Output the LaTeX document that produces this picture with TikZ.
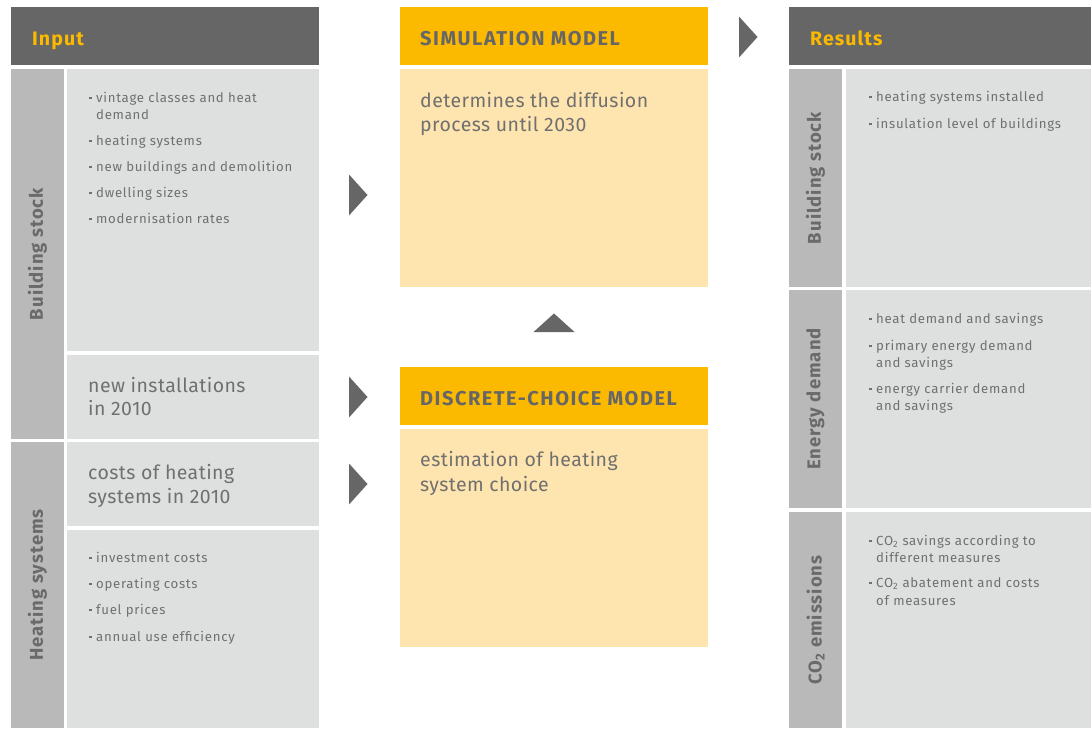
\documentclass[tikz,border=0pt]{standalone}
\usepackage{fontspec}
\setmainfont{Fira Sans}
\newfontfamily\itemfont[LetterSpace=5.5]{Fira Sans}
\newfontfamily\bodyfont[LetterSpace=2.2]{Fira Sans}
\newfontfamily\headfont[LetterSpace=5.5]{Fira Sans}
\newfontfamily\capsfont[LetterSpace=7.5]{Fira Sans}
\definecolor{hdrgray}{HTML}{666666}
\definecolor{amber}{HTML}{FBB900}
\definecolor{paleamber}{HTML}{FEE4AE}
\definecolor{panelgray}{HTML}{DEDFDF}
\definecolor{sidegray}{HTML}{B9B9B9}
\definecolor{txtgray}{HTML}{707070}
\definecolor{labgray}{HTML}{6A6A6A}

% small square bullet hanging left of the item text
\newcommand\sqbul{\llap{\raisebox{0.2em}{\rule{2.6pt}{2.6pt}}\hspace{4.4pt}}}
\newcommand\cotwo{CO\textsubscript{2}}

\begin{document}
\begin{tikzpicture}[x=1pt,y=-1pt,
  panel/.style={anchor=north west, inner sep=0pt, outer sep=0pt, draw=none},
  small/.style={anchor=base west, inner sep=0pt, text=txtgray,
    font=\itemfont\fontsize{13.2}{18}\selectfont},
  large/.style={anchor=base west, inner sep=0pt, text=txtgray,
    font=\bodyfont\fontsize{19.5}{24}\selectfont},
  headline/.style={anchor=base west, inner sep=0pt,
    font=\headfont\fontsize{19.5}{24}\selectfont\bfseries},
  capsline/.style={anchor=base west, inner sep=0pt, text=hdrgray,
    font=\capsfont\fontsize{20}{24}\selectfont\bfseries},
  sidelabel/.style={rotate=90, inner sep=0pt, text=labgray,
    font=\headfont\fontsize{18.5}{22}\selectfont\bfseries},
  pointer/.style={fill=hdrgray, draw=none}]
\useasboundingbox[fill=white] (0,0) rectangle (1091,728);

% ---------- Input column ----------
\node[panel, fill=hdrgray,   minimum width=308pt, minimum height=58pt]  (inhdr)  at (11,7)   {};
\node[panel, fill=sidegray,  minimum width=53pt,  minimum height=370pt] (inbsside) at (11,69) {};
\node[panel, fill=panelgray, minimum width=252pt, minimum height=282pt] (inbsa)  at (67,69)  {};
\node[panel, fill=panelgray, minimum width=252pt, minimum height=84pt]  (inbsb)  at (67,355) {};
\node[panel, fill=sidegray,  minimum width=53pt,  minimum height=286pt] (inhsside) at (11,442) {};
\node[panel, fill=panelgray, minimum width=252pt, minimum height=84pt]  (inhsa)  at (67,442) {};
\node[panel, fill=panelgray, minimum width=252pt, minimum height=198pt] (inhsb)  at (67,530) {};

\node[headline, text=amber] (tinput) at (32,45) {Input};
\node[sidelabel] (lbsin) at (inbsside.center) {Building stock};
\node[sidelabel] (lhsin) at (inhsside.center) {Heating systems};

\node[small] (i1a) at (96,102) {\sqbul vintage classes and heat};
\node[small] (i1b) at (96,119) {demand};
\node[small] (i2)  at (96,145) {\sqbul heating systems};
\node[small] (i3)  at (96,171) {\sqbul new buildings and demolition};
\node[small] (i4)  at (96,197) {\sqbul dwelling sizes};
\node[small] (i5)  at (96,223) {\sqbul modernisation rates};

\node[large] (n1) at (88,392) {new installations};
\node[large] (n2) at (88,415) {in 2010};
\node[large] (c1) at (88,479) {costs of heating};
\node[large] (c2) at (88,503) {systems in 2010};

\node[small] (h1) at (96,562) {\sqbul investment costs};
\node[small] (h2) at (96,588) {\sqbul operating costs};
\node[small] (h3) at (96,614) {\sqbul fuel prices};
\node[small] (h4) at (96,641) {\sqbul annual use efficiency};

% ---------- Model column ----------
\node[panel, fill=amber,     minimum width=308pt, minimum height=58pt]  (simhdr)  at (400,7)   {};
\node[panel, fill=paleamber, minimum width=308pt, minimum height=218pt] (simbody) at (400,69)  {};
\node[panel, fill=amber,     minimum width=308pt, minimum height=58pt]  (dchdr)   at (400,367) {};
\node[panel, fill=paleamber, minimum width=308pt, minimum height=218pt] (dcbody)  at (400,429) {};

\node[capsline] (tsim) at (420,45)  {SIMULATION MODEL};
\node[large] (s1) at (420,107) {determines the diffusion};
\node[large] (s2) at (420,131) {process until 2030};
\node[capsline] (tdc)  at (420,405) {DISCRETE-CHOICE MODEL};
\node[large] (d1) at (420,466) {estimation of heating};
\node[large] (d2) at (420,491) {system choice};

% ---------- Results column ----------
\node[panel, fill=hdrgray,   minimum width=302pt, minimum height=58pt]  (reshdr) at (789,7)   {};
\node[panel, fill=sidegray,  minimum width=53pt,  minimum height=218pt] (rbsside) at (789,69) {};
\node[panel, fill=panelgray, minimum width=245pt, minimum height=218pt] (rbs)    at (846,69)  {};
\node[panel, fill=sidegray,  minimum width=53pt,  minimum height=218pt] (redside) at (789,290) {};
\node[panel, fill=panelgray, minimum width=245pt, minimum height=218pt] (red)    at (846,290) {};
\node[panel, fill=sidegray,  minimum width=53pt,  minimum height=216pt] (rcoside) at (789,512) {};
\node[panel, fill=panelgray, minimum width=245pt, minimum height=216pt] (rco)    at (846,512) {};

\node[headline, text=amber] (tres) at (810,45) {Results};
\node[sidelabel] (lbsout) at (rbsside.center) {Building stock};
\node[sidelabel] (ledout) at (redside.center) {Energy demand};
\node[sidelabel] (lcoout) at (rcoside.center) {\cotwo\ emissions};

\node[small] (r1) at (876,101) {\sqbul heating systems installed};
\node[small] (r2) at (876,128) {\sqbul insulation level of buildings};

\node[small] (e1)  at (876,323) {\sqbul heat demand and savings};
\node[small] (e2a) at (876,350) {\sqbul primary energy demand};
\node[small] (e2b) at (876,367) {and savings};
\node[small] (e3a) at (876,393) {\sqbul energy carrier demand};
\node[small] (e3b) at (876,410) {and savings};

\node[small] (o1a) at (876,545) {\sqbul \cotwo\ savings according to};
\node[small] (o1b) at (876,562) {different measures};
\node[small] (o2a) at (876,587) {\sqbul \cotwo\ abatement and costs};
\node[small] (o2b) at (876,605) {of measures};

% ---------- flow pointers ----------
\coordinate (pa) at (349,195);
\coordinate (pb) at (349,397);
\coordinate (pc) at (349,484);
\coordinate (pd) at (739,37);
\coordinate (pe) at (554,332);
\fill[pointer] (pa) ++(0,-20.5) -- ++(18.5,20.5) -- ++(-18.5,20.5) -- cycle;
\fill[pointer] (pb) ++(0,-20.5) -- ++(18.5,20.5) -- ++(-18.5,20.5) -- cycle;
\fill[pointer] (pc) ++(0,-20.5) -- ++(18.5,20.5) -- ++(-18.5,20.5) -- cycle;
\fill[pointer] (pd) ++(0,-20.5) -- ++(18.5,20.5) -- ++(-18.5,20.5) -- cycle;
\fill[pointer] (pe) ++(-20.5,0) -- ++(20.5,-18.5) -- ++(20.5,18.5) -- cycle;
\end{tikzpicture}
\end{document}
